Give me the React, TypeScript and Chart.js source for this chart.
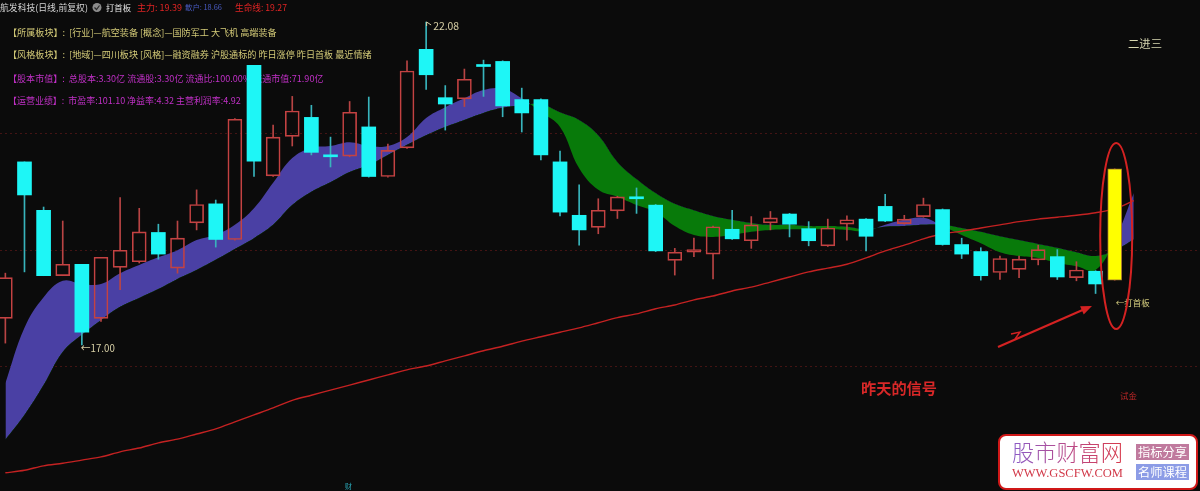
import React, { useEffect, useRef } from 'react';
import { Chart, registerables } from 'chart.js';
Chart.register(...registerables);

// ---- candle data (price, yuan) ----
const openP = [17.42, 19.88, 19.12, 18.09, 18.27, 17.42, 18.22, 18.31, 18.77, 18.21, 18.92, 19.22, 18.66, 21.40, 19.66, 20.28, 20.58, 19.99, 19.97, 20.43, 19.65, 20.10, 21.65, 20.89, 20.87, 21.39, 21.46, 20.86, 20.86, 19.88, 19.04, 18.85, 19.11, 19.33, 19.20, 18.33, 18.46, 18.43, 18.82, 18.64, 18.92, 19.06, 18.83, 18.56, 18.90, 18.98, 19.18, 18.91, 19.02, 19.13, 18.58, 18.47, 18.14, 18.19, 18.34, 18.39, 18.06, 18.16, 18.02];
const highP = [18.13, 19.88, 19.17, 18.95, 18.27, 18.38, 19.32, 19.15, 18.90, 18.95, 19.44, 19.28, 20.56, 21.40, 20.46, 20.91, 20.77, 20.27, 20.83, 20.90, 20.16, 21.47, 22.08, 21.08, 21.34, 21.48, 21.47, 21.04, 20.87, 20.05, 19.52, 19.30, 19.34, 19.47, 19.21, 18.52, 18.68, 18.87, 19.12, 19.02, 19.10, 19.07, 18.94, 18.98, 19.03, 18.99, 19.37, 19.04, 19.31, 19.14, 18.68, 18.53, 18.40, 18.40, 18.57, 18.50, 18.31, 18.17, 19.77];
const lowP = [17.03, 18.15, 18.09, 18.09, 17.00, 17.37, 17.87, 18.29, 18.35, 18.13, 18.81, 18.54, 18.65, 19.65, 19.65, 20.13, 19.99, 19.80, 19.96, 19.64, 19.64, 20.09, 21.02, 20.38, 20.75, 20.91, 20.59, 20.35, 19.91, 19.03, 18.57, 18.75, 18.99, 19.07, 18.47, 18.10, 18.39, 18.04, 18.66, 18.52, 18.81, 18.70, 18.56, 18.55, 18.65, 18.48, 18.94, 18.90, 19.01, 18.57, 18.36, 18.02, 18.03, 18.06, 18.26, 18.03, 18.01, 17.81, 18.02];
const closeP = [18.06, 19.36, 18.09, 18.27, 17.20, 18.38, 18.49, 18.78, 18.43, 18.68, 19.21, 18.66, 20.55, 19.89, 20.27, 20.68, 20.03, 19.96, 20.66, 19.65, 20.06, 21.31, 21.25, 20.79, 21.18, 21.38, 20.76, 20.65, 19.99, 19.09, 18.81, 19.12, 19.33, 19.30, 18.48, 18.46, 18.50, 18.86, 18.67, 18.89, 19.00, 18.90, 18.64, 18.84, 18.97, 18.71, 18.95, 18.98, 19.21, 18.58, 18.43, 18.09, 18.36, 18.35, 18.50, 18.07, 18.18, 17.96, 19.77];

// ---- indicator lines (one more point than candles) ----
const mainForce = [16.40, 17.27, 17.75, 18.01, 17.96, 17.96, 18.13, 18.26, 18.38, 18.49, 18.65, 18.73, 18.89, 19.15, 19.55, 19.94, 20.10, 20.13, 20.19, 20.13, 20.13, 20.27, 20.57, 20.74, 20.88, 21.01, 21.03, 20.88, 20.66, 20.43, 19.78, 19.44, 19.33, 19.20, 19.09, 18.87, 18.73, 18.70, 18.73, 18.78, 18.81, 18.82, 18.82, 18.82, 18.81, 18.79, 18.89, 18.97, 19.00, 18.87, 18.73, 18.60, 18.46, 18.40, 18.37, 18.29, 18.24, 18.18, 18.65, 19.39];
const retail = [15.51, 15.90, 16.37, 16.89, 17.16, 17.39, 17.60, 17.74, 17.88, 18.04, 18.18, 18.34, 18.51, 18.68, 18.89, 19.20, 19.41, 19.56, 19.72, 19.83, 19.99, 20.15, 20.30, 20.43, 20.54, 20.65, 20.73, 20.77, 20.79, 20.66, 20.54, 20.30, 19.88, 19.61, 19.39, 19.22, 19.12, 19.03, 18.97, 18.92, 18.89, 18.89, 18.87, 18.87, 18.86, 18.82, 18.86, 18.87, 18.89, 18.89, 18.84, 18.78, 18.71, 18.65, 18.59, 18.53, 18.46, 18.40, 18.49, 18.66];
const lifeLine = [14.99, 15.03, 15.10, 15.14, 15.19, 15.24, 15.32, 15.38, 15.46, 15.52, 15.60, 15.68, 15.79, 15.90, 16.01, 16.13, 16.21, 16.29, 16.37, 16.45, 16.53, 16.61, 16.67, 16.75, 16.83, 16.91, 16.98, 17.06, 17.13, 17.20, 17.27, 17.35, 17.43, 17.49, 17.57, 17.63, 17.71, 17.77, 17.85, 17.91, 17.99, 18.07, 18.15, 18.21, 18.27, 18.37, 18.48, 18.57, 18.67, 18.75, 18.79, 18.84, 18.89, 18.94, 18.98, 19.01, 19.04, 19.08, 19.14, 19.27];

const gridPrices = [20.33, 18.49, 16.67];
const signalDay = 58;
const peakDay = 22;
const troughDay = 4;

const headerTexts = ['航发科技(日线,前复权)', '打首板', '主力: 19.39', '散户: 18.66', '生命线: 19.27'];
const infoRows = [
  '【所属板块】:  [行业]—航空装备 [概念]—国防军工 大飞机 高端装备',
  '【风格板块】:  [地域]—四川板块 [风格]—融资融券 沪股通标的 昨日涨停 昨日首板 最近情绪',
  '【股本市值】:  总股本:3.30亿 流通股:3.30亿 流通比:100.00% 流通市值:71.90亿',
  '【运营业绩】:  市盈率:101.10 净益率:4.32 主营利润率:4.92',
];

const CJK = '"Noto Sans CJK SC", "Microsoft YaHei", sans-serif';
const BG = '#0b0b0b';

function fitText(ctx: CanvasRenderingContext2D, text: string, x: number, y: number, width: number, color: string | CanvasGradient, weight = 'normal', family = CJK) {
  ctx.font = `${weight} 10px ${family}`;
  const w = ctx.measureText(text).width;
  const size = (10 * width) / w;
  ctx.font = `${weight} ${size}px ${family}`;
  ctx.fillStyle = color;
  ctx.textBaseline = 'middle';
  ctx.textAlign = 'left';
  ctx.fillText(text, x, y);
}

const underPlugin = {
  id: 'underLayer',
  beforeDatasetsDraw(chart: any) {
    const ctx: CanvasRenderingContext2D = chart.ctx;
    const ys = chart.scales.y;
    ctx.save();
    ctx.strokeStyle = 'rgba(125,30,30,0.5)';
    ctx.lineWidth = 1;
    ctx.setLineDash([2, 3]);
    gridPrices.forEach((p) => {
      const py = Math.round(ys.getPixelForValue(p)) + 0.5;
      ctx.beginPath();
      ctx.moveTo(0, py);
      ctx.lineTo(1200, py);
      ctx.stroke();
    });
    ctx.setLineDash([]);

    // header line
    fitText(ctx, headerTexts[0], 0, 7.5, 88, '#d4d4d4');
    ctx.beginPath();
    ctx.arc(97, 7.5, 4.5, 0, Math.PI * 2);
    ctx.fillStyle = '#8c8c8c';
    ctx.fill();
    ctx.strokeStyle = '#2a2a2a';
    ctx.lineWidth = 1.2;
    ctx.beginPath();
    ctx.moveTo(94.5, 7.5);
    ctx.lineTo(96.5, 9.5);
    ctx.lineTo(99.5, 5.5);
    ctx.stroke();
    fitText(ctx, headerTexts[1], 106, 7.5, 25, '#e6e6e6');
    fitText(ctx, headerTexts[2], 137, 7.5, 45, '#e02424');
    fitText(ctx, headerTexts[3], 185, 7.5, 37, '#4a5cc4');
    fitText(ctx, headerTexts[4], 235, 7.5, 52, '#e02424');

    fitText(ctx, infoRows[0], 8, 32.5, 269, '#d4cb78');
    fitText(ctx, infoRows[1], 8, 55, 364, '#d4cb78');
    fitText(ctx, infoRows[2], 8, 78.5, 316, '#c030c6');
    fitText(ctx, infoRows[3], 8, 100.5, 233, '#c030c6');
    ctx.restore();
  },
};

const overPlugin = {
  id: 'overLayer',
  afterDatasetsDraw(chart: any) {
    const ctx: CanvasRenderingContext2D = chart.ctx;
    const xs = chart.scales.x;
    const ys = chart.scales.y;
    ctx.save();
    const label = '#d8d0a6';

    // peak label
    const px = xs.getPixelForValue(peakDay);
    const py = ys.getPixelForValue(highP[peakDay]);
    ctx.strokeStyle = label;
    ctx.lineWidth = 1;
    ctx.beginPath();
    ctx.moveTo(px + 0.5, py + 4);
    ctx.lineTo(px + 0.5, py);
    ctx.lineTo(px + 5, py + 3);
    ctx.stroke();
    fitText(ctx, highP[peakDay].toFixed(2), px + 7, py + 4.5, 26, label);

    // trough label
    const tx = xs.getPixelForValue(troughDay);
    const ty = ys.getPixelForValue(lowP[troughDay]);
    fitText(ctx, '←' + lowP[troughDay].toFixed(2), tx - 1, ty + 3, 34, label);

    // signal annotations
    const sx = xs.getPixelForValue(signalDay);
    const sLow = ys.getPixelForValue(lowP[signalDay]);
    fitText(ctx, '←打首板', sx + 1, sLow + 23, 34, '#d8d080');
    fitText(ctx, '二进三', 1128, 43.5, 34, '#d6d6b0');

    ctx.strokeStyle = '#d42222';
    ctx.lineWidth = 2;
    ctx.beginPath();
    ctx.ellipse(sx + 1.5, 236, 16, 93, 0, 0, Math.PI * 2);
    ctx.stroke();

    // arrow
    const ax0 = 998, ay0 = 347, ax1 = 1092, ay1 = 306;
    ctx.lineWidth = 2.2;
    ctx.beginPath();
    ctx.moveTo(ax0, ay0);
    ctx.lineTo(ax1 - 6, ay1 + 2.6);
    ctx.stroke();
    const ang = Math.atan2(ay1 - ay0, ax1 - ax0);
    ctx.fillStyle = '#d42222';
    ctx.beginPath();
    ctx.moveTo(ax1, ay1);
    ctx.lineTo(ax1 - 11 * Math.cos(ang) + 4.5 * Math.sin(ang), ay1 - 11 * Math.sin(ang) - 4.5 * Math.cos(ang));
    ctx.lineTo(ax1 - 11 * Math.cos(ang) - 4.5 * Math.sin(ang), ay1 - 11 * Math.sin(ang) + 4.5 * Math.cos(ang));
    ctx.closePath();
    ctx.fill();
    ctx.lineWidth = 1.4;
    ctx.beginPath();
    ctx.moveTo(1011, 334);
    ctx.lineTo(1020, 332);
    ctx.lineTo(1015, 339);
    ctx.stroke();

    fitText(ctx, '昨天的信号', 861, 388, 76, '#d82828', 'bold');
    fitText(ctx, '试金', 1120, 396, 17, '#c02828');
    fitText(ctx, '财', 345, 486, 7, '#2aa8b8');

    // watermark
    ctx.fillStyle = '#ffffff';
    ctx.strokeStyle = '#d01818';
    ctx.lineWidth = 2;
    ctx.beginPath();
    (ctx as any).roundRect(999, 435, 198, 54, 7);
    ctx.fill();
    ctx.stroke();
    const grad = ctx.createLinearGradient(1012, 0, 1123, 0);
    grad.addColorStop(0, '#8a5cc8');
    grad.addColorStop(0.5, '#b84a8a');
    grad.addColorStop(1, '#d83a4a');
    fitText(ctx, '股市财富网', 1012, 453, 111, grad, '300');
    fitText(ctx, 'WWW.GSCFW.COM', 1012, 473.5, 111, '#d23a4a', 'normal', '"Liberation Serif", serif');
    ctx.fillStyle = '#c07a9e';
    ctx.fillRect(1136, 444, 53, 16);
    ctx.fillStyle = '#8c9ce6';
    ctx.fillRect(1136, 464, 53, 16);
    fitText(ctx, '指标分享', 1138, 452.5, 49, '#ffffff');
    fitText(ctx, '名师课程', 1138, 472.5, 49, '#ffffff');
    ctx.restore();
  },
};

export default function App() {
  const ref = useRef<HTMLCanvasElement | null>(null);
  useEffect(() => {
    document.body.style.margin = '0';
    document.body.style.background = BG;
    const canvas = ref.current;
    if (!canvas) return;
    const idx = openP.map((_, i) => i);
    const lineIdx = mainForce.map((_, i) => i);
    const isUp = (i: number) => closeP[i] >= openP[i];
    const isSig = (i: number) => i === signalDay;
    const bodyFill = idx.map((i) => (isSig(i) ? '#ffff00' : isUp(i) ? 'rgba(0,0,0,0)' : '#1ef6f6'));
    const bodyBorder = idx.map((i) => (isSig(i) ? '#a87a2a' : isUp(i) ? '#c44242' : '#1ef6f6'));
    const bodyBorderW = idx.map((i) => (isSig(i) || isUp(i) ? 1 : 0));
    const wickColor = idx.map((i) => (isUp(i) ? '#b84444' : '#38b4bc'));

    const chart = new Chart(canvas, {
      type: 'bar',
      data: {
        datasets: [
          {
            type: 'bar',
            label: 'body',
            data: idx.map((i) => ({ x: i, y: [openP[i], closeP[i]] })) as any,
            backgroundColor: bodyFill,
            borderColor: bodyBorder,
            borderWidth: bodyBorderW,
            borderSkipped: false,
            barThickness: 14,
            grouped: false,
            minBarLength: 2,
            order: 1,
          } as any,
          {
            type: 'bar',
            label: 'upperWick',
            data: idx.map((i) => ({ x: i, y: [Math.max(openP[i], closeP[i]), highP[i]] })) as any,
            backgroundColor: wickColor,
            borderWidth: 0,
            barThickness: 1,
            grouped: false,
            order: 2,
          } as any,
          {
            type: 'bar',
            label: 'lowerWick',
            data: idx.map((i) => ({ x: i, y: [lowP[i], Math.min(openP[i], closeP[i])] })) as any,
            backgroundColor: wickColor,
            borderWidth: 0,
            barThickness: 1,
            grouped: false,
            order: 2,
          } as any,
          {
            type: 'line',
            label: '生命线',
            data: lineIdx.map((i) => ({ x: i, y: lifeLine[i] })) as any,
            borderColor: '#c42222',
            borderWidth: 1.4,
            pointRadius: 0,
            tension: 0.3,
            fill: false,
            order: 5,
          } as any,
          {
            type: 'line',
            label: '散户',
            data: lineIdx.map((i) => ({ x: i, y: retail[i] })) as any,
            borderColor: 'rgba(0,0,0,0)',
            borderWidth: 1,
            pointRadius: 0,
            tension: 0.4,
            fill: false,
            order: 8,
          } as any,
          {
            type: 'line',
            label: '主力',
            data: lineIdx.map((i) => ({ x: i, y: mainForce[i] })) as any,
            borderColor: 'rgba(0,0,0,0)',
            borderWidth: 1,
            pointRadius: 0,
            tension: 0.4,
            fill: { target: '-1', above: '#4a40a4', below: '#087a0a' },
            order: 7,
          } as any,
        ],
      },
      options: {
        responsive: false,
        animation: false,
        events: [],
        layout: { padding: 0 },
        plugins: { legend: { display: false }, tooltip: { enabled: false } },
        scales: {
          x: { type: 'linear', min: -0.28, max: 62.46, display: false, offset: false },
          y: { type: 'linear', min: 14.704, max: 22.426, display: false },
        },
      } as any,
      plugins: [underPlugin, overPlugin],
    });
    return () => chart.destroy();
  }, []);

  return (
    <div style={{ position: 'fixed', left: 0, top: 0, width: 1200, height: 491, background: BG }}>
      <canvas ref={ref} width={1200} height={491} style={{ display: 'block' }} />
    </div>
  );
}
